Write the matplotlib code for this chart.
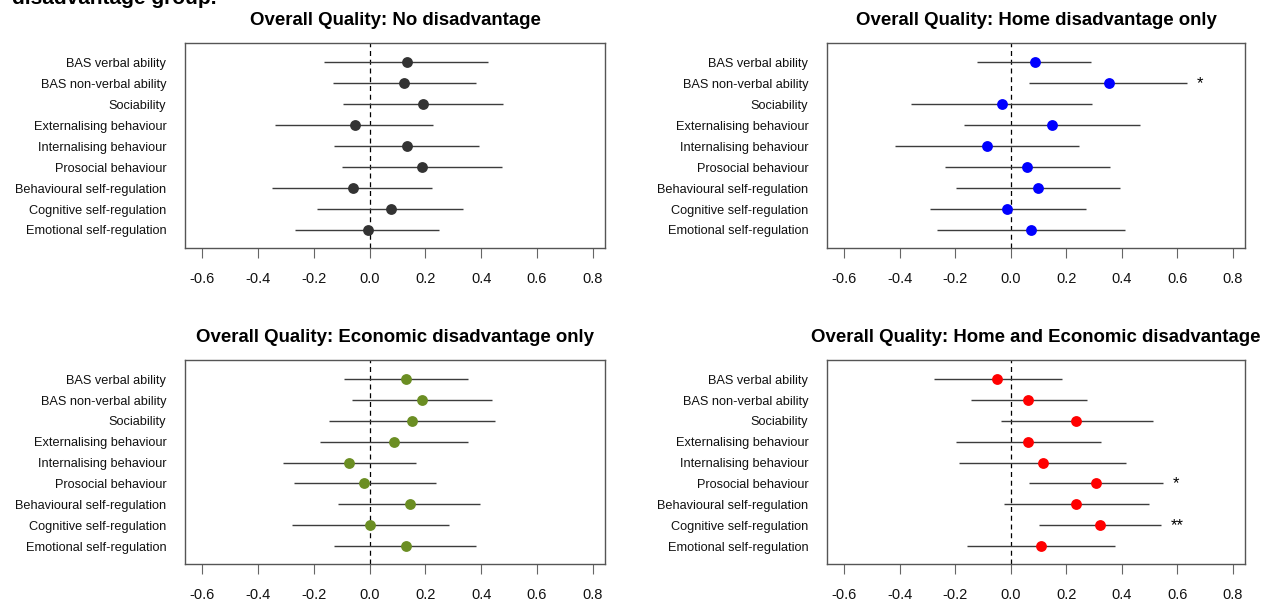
import matplotlib
matplotlib.use("Agg")
import matplotlib.pyplot as plt
import numpy as np

plt.rcParams['font.family'] = ['Liberation Sans', 'DejaVu Sans']
plt.rcParams['axes.unicode_minus'] = False

outcomes = ["BAS verbal ability", "BAS non-verbal ability", "Sociability",
            "Externalising behaviour", "Internalising behaviour", "Prosocial behaviour",
            "Behavioural self-regulation", "Cognitive self-regulation",
            "Emotional self-regulation"]

xticks = [-0.6, -0.4, -0.2, 0.0, 0.2, 0.4, 0.6, 0.8]

titles = ["Overall Quality: No disadvantage",
          "Overall Quality: Home disadvantage only",
          "Overall Quality: Economic disadvantage only",
          "Overall Quality: Home and Economic disadvantage"]

colors = ["#333333", "#0000FF", "#6B8E23", "#FF0000"]

# No disadvantage
est_none = [0.134, 0.123, 0.192, -0.054, 0.134, 0.188, -0.060, 0.075, -0.006]
lo_none = [-0.163, -0.132, -0.095, -0.338, -0.126, -0.100, -0.349, -0.188, -0.266]
hi_none = [0.423, 0.383, 0.477, 0.226, 0.391, 0.474, 0.222, 0.335, 0.247]
sig_none = ["", "", "", "", "", "", "", "", ""]

# Home disadvantage only
est_home = [0.086, 0.353, -0.032, 0.149, -0.086, 0.060, 0.098, -0.012, 0.073]
lo_home = [-0.120, 0.067, -0.361, -0.168, -0.418, -0.236, -0.197, -0.292, -0.267]
hi_home = [0.288, 0.636, 0.292, 0.464, 0.247, 0.359, 0.394, 0.270, 0.410]
sig_home = ["", "*", "", "", "", "", "", "", ""]

# Economic disadvantage only
est_econ = [0.132, 0.188, 0.151, 0.087, -0.073, -0.019, 0.145, 0.003, 0.132]
lo_econ = [-0.093, -0.062, -0.144, -0.179, -0.311, -0.272, -0.113, -0.280, -0.126]
hi_econ = [0.354, 0.438, 0.449, 0.354, 0.166, 0.239, 0.396, 0.286, 0.383]
sig_econ = ["", "", "", "", "", "", "", "", ""]

# Home and Economic disadvantage
est_both = [-0.050, 0.063, 0.236, 0.063, 0.115, 0.307, 0.236, 0.323, 0.109]
lo_both = [-0.277, -0.142, -0.036, -0.197, -0.185, 0.067, -0.026, 0.102, -0.159]
hi_both = [0.184, 0.274, 0.512, 0.326, 0.416, 0.547, 0.498, 0.540, 0.374]
sig_both = ["", "", "", "", "", "*", "", "**", ""]

panels = [(est_none, lo_none, hi_none, sig_none),
          (est_home, lo_home, hi_home, sig_home),
          (est_econ, lo_econ, hi_econ, sig_econ),
          (est_both, lo_both, hi_both, sig_both)]

W, H = 1272, 602
fig = plt.figure(figsize=(W / 100, H / 100), dpi=100)

# axes boxes in pixels: left, top, right, bottom
boxes = [(185, 43, 605, 248), (827, 43, 1245, 248),
         (185, 360, 605, 564), (827, 360, 1245, 564)]

for i, (est, lo, hi, sig) in enumerate(panels):
    l, t, r, b = boxes[i]
    ax = fig.add_axes([l / W, 1 - b / H, (r - l) / W, (b - t) / H])
    y = np.arange(1, len(outcomes) + 1)
    ax.axvline(0, color="black", lw=0.9, dashes=(4, 3), zorder=1)
    ax.hlines(y, lo, hi, color="#3c3c3c", lw=1.0, zorder=2)
    ax.plot(est, y, "o", color=colors[i], markersize=7.8, markeredgewidth=0, zorder=3)
    for yy, h, s in zip(y, hi, sig):
        if s:
            ax.text(h + 0.035, yy, s, ha="left", va="center", fontsize=12, color="black")
    ax.set_xlim(-0.662, 0.844)
    ax.set_ylim(9.86, 0.08)
    ax.set_yticks(y)
    ax.set_yticklabels(outcomes, fontsize=9.2, color="#111111")
    ax.set_xticks(xticks)
    ax.set_xticklabels(["%.1f" % v for v in xticks], fontsize=10.5, color="#111111")
    ax.tick_params(axis="y", length=0, pad=13.5)
    ax.tick_params(axis="x", length=7.2, width=0.8, color="#666666", pad=10)
    for sp in ax.spines.values():
        sp.set_color("#555555")
        sp.set_linewidth(1.0)
    ax.set_title(titles[i], fontsize=13.4, fontweight="bold", pad=13)

fig.text(12 / W, 1 - 4.5 / H, "disadvantage group.", fontsize=15, fontweight="bold",
         ha="left", va="baseline")

fig.savefig("out.png", dpi=100)
